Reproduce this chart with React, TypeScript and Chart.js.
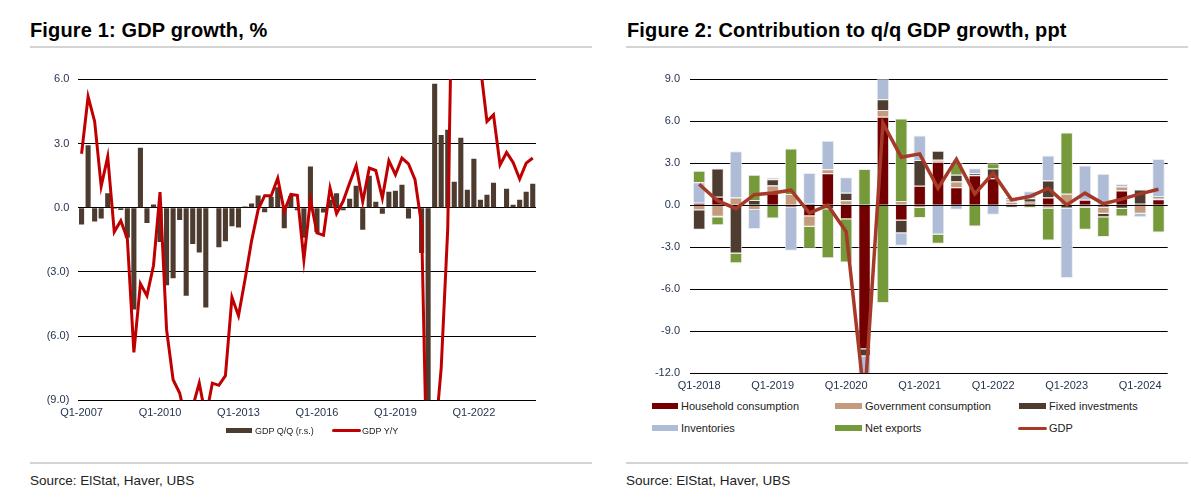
import React, { useEffect, useRef } from "react";
import { Chart, registerables } from "chart.js";
Chart.register(...registerables);

// ---------- Figure 1 data ----------
const FIG1_LABELS = [
  "Q1-2007","Q2-2007","Q3-2007","Q4-2007","Q1-2008","Q2-2008","Q3-2008","Q4-2008",
  "Q1-2009","Q2-2009","Q3-2009","Q4-2009","Q1-2010","Q2-2010","Q3-2010","Q4-2010",
  "Q1-2011","Q2-2011","Q3-2011","Q4-2011","Q1-2012","Q2-2012","Q3-2012","Q4-2012",
  "Q1-2013","Q2-2013","Q3-2013","Q4-2013","Q1-2014","Q2-2014","Q3-2014","Q4-2014",
  "Q1-2015","Q2-2015","Q3-2015","Q4-2015","Q1-2016","Q2-2016","Q3-2016","Q4-2016",
  "Q1-2017","Q2-2017","Q3-2017","Q4-2017","Q1-2018","Q2-2018","Q3-2018","Q4-2018",
  "Q1-2019","Q2-2019","Q3-2019","Q4-2019","Q1-2020","Q2-2020","Q3-2020","Q4-2020",
  "Q1-2021","Q2-2021","Q3-2021","Q4-2021","Q1-2022","Q2-2022","Q3-2022","Q4-2022",
  "Q1-2023","Q2-2023","Q3-2023","Q4-2023","Q1-2024","Q2-2024",
];
const GDP_QQ = [
  -0.78, 2.92, -0.64, -0.5, 0.67, -0.05, -0.11, -1.4,
  -4.76, 2.8, -0.72, 0.15, -1.6, -3.62, -3.3, -0.58,
  -4.12, -1.7, -2.09, -4.66, 0.0, -1.85, -1.57, -0.87,
  -0.92, 0.06, 0.2, 0.57, -0.21, 0.5, 0.95, -0.96,
  0.55, -0.12, -1.4, 1.93, -1.15, -0.22, 0.37, 0.68,
  -0.12, 0.42, 1.03, -1.03, 1.49, 0.28, -0.28, 0.75,
  0.79, 1.07, -0.51, -0.06, -2.12, -14.0, 5.79, 3.4,
  3.64, 1.21, 3.27, 0.84, 2.29, 0.37, 0.61, 1.17,
  0.0, 0.89, 0.14, 0.37, 0.75, 1.12,
];
const GDP_YY = [
  2.52, 5.19, 4.03, 1.0, 2.39, -1.13, -0.61, -1.45,
  -6.76, -3.55, -4.11, -2.7, 0.73, -5.7, -8.04, -8.66,
  -10.0, -9.3, -8.2, -9.8, -8.2, -8.3, -7.85, -4.19,
  -5.05, -3.36, -1.55, -0.1, 0.56, 0.56, 1.38, -0.17,
  0.62, 0.58, -2.43, 0.37, -1.18, -1.29, 0.92, -0.28,
  0.3, 1.15, 1.97, 0.28, 1.85, 1.74, 0.45, 2.2,
  1.54, 2.32, 2.05, 1.31, -0.8, -15.0, -11.0, -7.5,
  -1.0, 16.0, 12.0, 8.0, 8.0, 6.6, 4.03, 4.34,
  2.0, 2.58, 2.11, 1.34, 2.08, 2.32,
];
const FIG1_Y_MIN = -9;
const FIG1_Y_MAX = 6;
const FIG1_Y_STEP = 3;

// ---------- Figure 2 data ----------
const FIG2_LABELS = [
  "Q1-2018","Q2-2018","Q3-2018","Q4-2018","Q1-2019","Q2-2019","Q3-2019","Q4-2019",
  "Q1-2020","Q2-2020","Q3-2020","Q4-2020","Q1-2021","Q2-2021","Q3-2021","Q4-2021",
  "Q1-2022","Q2-2022","Q3-2022","Q4-2022","Q1-2023","Q2-2023","Q3-2023","Q4-2023",
  "Q1-2024","Q2-2024",
];
const HOUSEHOLD = [0.17, 0.6, 0.0, 0.0, 0.85, -0.15, -0.8, 2.28, -1.0, -10.3, 6.33, -1.1, 1.38, 3.1, 1.29, 2.14, 1.93, 0.05, 0.15, 0.55, 0.0, 0.38, -0.17, 1.05, 0.1, 0.43];
const GOVERNMENT = [-0.36, -0.82, 0.55, -0.35, 0.55, 0.8, -0.75, 0.29, 0.36, 0.0, 0.48, 0.3, -0.2, 0.14, 0.4, 0.0, 0.0, 0.2, 0.1, -0.24, 0.81, -0.17, -0.45, 0.28, -0.62, 0.05];
const FIXED_INV = [-1.39, 2.03, -3.45, 0.37, 0.45, 0.0, 0.1, -0.3, 0.53, -0.5, 0.76, -0.9, 1.85, 0.66, 0.48, 0.15, 0.69, -0.18, 0.25, 1.21, -0.24, 0.0, -0.24, -0.26, 1.02, 0.14];
const INVENTORIES = [1.46, -0.05, 3.3, -1.36, 0.12, -3.1, 2.2, 2.03, 1.1, -1.5, 1.9, -0.9, 1.75, -2.1, -0.33, 0.35, -0.69, 0.2, 0.5, 1.79, -4.97, 2.45, 2.24, 0.19, -0.24, 2.69];
const NET_EXPORTS = [0.84, -0.57, -0.7, 1.8, -0.95, 3.25, -1.55, -3.5, -3.1, 2.59, -7.0, 5.9, -0.72, -0.66, 0.88, -1.52, 0.38, 0.1, -0.2, -2.29, 4.38, -1.59, -1.42, -0.55, 0.0, -1.95];
const GDP_CONTRIB = [1.5, 0.32, -0.25, 0.75, 0.87, 1.07, -0.56, 0.0, -1.9, -14.0, 5.86, 3.43, 3.67, 1.21, 3.29, 0.81, 2.29, 0.38, 0.62, 1.21, 0.02, 0.86, 0.1, 0.43, 0.81, 1.14];
const FIG2_Y_MIN = -12;
const FIG2_Y_MAX = 9;
const FIG2_Y_STEP = 3;

// ---------- styles ----------
const FONT = '"Liberation Sans", Arial, sans-serif';
const TICK_COLOR = "#25344f";
const C_BAR1 = "#4d3b2f";
const C_LINE1 = "#c00000";
const C_HH = "#730000";
const C_GOV = "#c49b7d";
const C_FIX = "#4e3c31";
const C_INV = "#aebcd8";
const C_NX = "#76993a";
const C_GDP = "#a63a28";

const fixYAxis = (w: number) => (s: any) => {
  s.width = w;
  s.paddingTop = 0;
  s.paddingBottom = 0;
};

function Fig1Chart() {
  const ref = useRef<HTMLCanvasElement | null>(null);
  useEffect(() => {
    const chart = new Chart(ref.current as HTMLCanvasElement, {
      type: "bar",
      data: {
        labels: FIG1_LABELS,
        datasets: [
          {
            type: "line",
            label: "GDP Y/Y",
            data: GDP_YY,
            borderColor: C_LINE1,
            backgroundColor: C_LINE1,
            borderWidth: 3,
            pointRadius: 0,
            tension: 0,
            order: 0,
            clip: 0,
          } as any,
          {
            type: "bar",
            label: "GDP Q/Q (r.s.)",
            data: GDP_QQ,
            backgroundColor: C_BAR1,
            borderWidth: 0,
            barPercentage: 0.78,
            categoryPercentage: 1,
            order: 1,
            clip: 0,
          } as any,
        ],
      },
      options: {
        responsive: false,
        animation: false,
        layout: { padding: { top: 9.3, right: 14, left: 0, bottom: 0 } },
        plugins: { legend: { display: false }, tooltip: { enabled: false } },
        scales: {
          x: {
            grid: { display: false, drawTicks: false },
            border: { display: false },
            afterFit: (s: any) => { s.height = 24.7; },
            ticks: {
              autoSkip: false,
              maxRotation: 0,
              padding: 6,
              color: TICK_COLOR,
              font: { family: FONT, size: 11 },
              callback: (_v: any, i: number) => (i % 12 === 0 ? FIG1_LABELS[i] : ""),
            },
          },
          y: {
            min: FIG1_Y_MIN,
            max: FIG1_Y_MAX,
            afterFit: fixYAxis(48.3),
            grid: { color: "#000", lineWidth: 1, drawTicks: false },
            border: { display: false },
            ticks: {
              stepSize: FIG1_Y_STEP,
              padding: 9,
              color: TICK_COLOR,
              font: { family: FONT, size: 11 },
              callback: (v: any) => (v < 0 ? `(${Math.abs(v).toFixed(1)})` : Number(v).toFixed(1)),
            },
          },
        },
      },
    });
    return () => chart.destroy();
  }, []);
  return <canvas ref={ref} width={520} height={355} style={{ position: "absolute", left: 30, top: 70, width: 520, height: 355 }} />;
}

function Fig2Chart() {
  const ref = useRef<HTMLCanvasElement | null>(null);
  useEffect(() => {
    const barDs = (label: string, data: number[], color: string) => ({
      type: "bar",
      label,
      data,
      backgroundColor: color,
      borderColor: "rgba(235,235,235,0.9)",
      borderWidth: 1,
      barPercentage: 0.68,
      categoryPercentage: 1,
      stack: "contrib",
      order: 1,
      clip: 0,
    });
    const chart = new Chart(ref.current as HTMLCanvasElement, {
      type: "bar",
      data: {
        labels: FIG2_LABELS,
        datasets: [
          barDs("Household consumption", HOUSEHOLD, C_HH),
          barDs("Government consumption", GOVERNMENT, C_GOV),
          barDs("Fixed investments", FIXED_INV, C_FIX),
          barDs("Inventories", INVENTORIES, C_INV),
          barDs("Net exports", NET_EXPORTS, C_NX),
          {
            type: "line",
            label: "GDP",
            data: GDP_CONTRIB,
            borderColor: C_GDP,
            backgroundColor: C_GDP,
            borderWidth: 3.5,
            pointRadius: 0,
            tension: 0,
            stack: "gdp",
            order: 0,
            clip: 0,
          },
        ] as any,
      },
      options: {
        responsive: false,
        animation: false,
        layout: { padding: { top: 9.3, right: 12.3, left: 0, bottom: 0 } },
        plugins: { legend: { display: false }, tooltip: { enabled: false } },
        scales: {
          x: {
            stacked: true,
            grid: { display: false, drawTicks: false },
            border: { display: false },
            afterFit: (s: any) => { s.height = 22; },
            ticks: {
              autoSkip: false,
              maxRotation: 0,
              padding: 6,
              color: TICK_COLOR,
              font: { family: FONT, size: 11 },
              callback: (_v: any, i: number) => (i % 4 === 0 ? FIG2_LABELS[i] : ""),
            },
          },
          y: {
            stacked: true,
            min: FIG2_Y_MIN,
            max: FIG2_Y_MAX,
            afterFit: fixYAxis(50),
            grid: { color: "#000", lineWidth: 1, drawTicks: false },
            border: { display: false },
            ticks: {
              stepSize: FIG2_Y_STEP,
              padding: 10,
              color: TICK_COLOR,
              font: { family: FONT, size: 11 },
              callback: (v: any) => Number(v).toFixed(1),
            },
          },
        },
      },
    });
    return () => chart.destroy();
  }, []);
  return <canvas ref={ref} width={540} height={325} style={{ position: "absolute", left: 640, top: 70, width: 540, height: 325 }} />;
}

const abs = (s: React.CSSProperties): React.CSSProperties => ({ position: "absolute", ...s });

function LegendText({ left, cy, size, text }: { left: number; cy: number; size: number; text: string }) {
  return (
    <div style={abs({ left, top: cy - 8, height: 16, lineHeight: "16px", fontFamily: FONT, fontSize: size, color: "#222", whiteSpace: "nowrap" })}>
      {text}
    </div>
  );
}

function Swatch({ left, cy, w, h, color, round }: { left: number; cy: number; w: number; h: number; color: string; round?: boolean }) {
  return <div style={abs({ left, top: cy - h / 2, width: w, height: h, background: color, borderRadius: round ? h / 2 : 0 })} />;
}

export default function App() {
  useEffect(() => {
    document.body.style.margin = "0";
  }, []);
  const titleStyle = (left: number): React.CSSProperties =>
    abs({ left, top: 20, lineHeight: "20px", fontFamily: FONT, fontWeight: "bold", fontSize: 20, letterSpacing: "0.15px", color: "#000", whiteSpace: "nowrap" });
  const sourceStyle = (left: number): React.CSSProperties =>
    abs({ left, top: 473, lineHeight: "16px", fontFamily: FONT, fontSize: 13.5, color: "#222", whiteSpace: "nowrap" });
  return (
    <div style={abs({ left: 0, top: 0, width: 1191, height: 502, background: "#fff", overflow: "hidden" })}>
      <div style={titleStyle(30)}>Figure 1: GDP growth, %</div>
      <div style={titleStyle(627)}>Figure 2: Contribution to q/q GDP growth, ppt</div>
      <div style={abs({ left: 30, top: 46, width: 562, height: 2, background: "#d4d4d4" })} />
      <div style={abs({ left: 626, top: 46, width: 562, height: 2, background: "#d4d4d4" })} />

      <Fig1Chart />
      <Fig2Chart />

      {/* Figure 1 legend */}
      <Swatch left={225.7} cy={430.7} w={26.5} h={5.5} color={C_BAR1} />
      <LegendText left={255} cy={430.7} size={9} text="GDP Q/Q (r.s.)" />
      <Swatch left={331.7} cy={430.7} w={29} h={3.5} color={C_LINE1} round />
      <LegendText left={362} cy={430.7} size={9} text="GDP Y/Y" />

      {/* Figure 2 legend */}
      <Swatch left={651.7} cy={406} w={26} h={6} color={C_HH} />
      <LegendText left={681} cy={406} size={11} text="Household consumption" />
      <Swatch left={835} cy={406} w={27} h={6} color={C_GOV} />
      <LegendText left={865} cy={406} size={11} text="Government consumption" />
      <Swatch left={1019} cy={406} w={27} h={6} color={C_FIX} />
      <LegendText left={1049} cy={406} size={11} text="Fixed investments" />
      <Swatch left={651.7} cy={428.3} w={26} h={6} color={C_INV} />
      <LegendText left={681} cy={428.3} size={11} text="Inventories" />
      <Swatch left={835} cy={428.3} w={27} h={6} color={C_NX} />
      <LegendText left={865} cy={428.3} size={11} text="Net exports" />
      <Swatch left={1018} cy={428.3} w={29} h={3.5} color={C_GDP} round />
      <LegendText left={1049} cy={428.3} size={11} text="GDP" />

      <div style={abs({ left: 30, top: 462, width: 562, height: 2, background: "#d4d4d4" })} />
      <div style={abs({ left: 626, top: 462, width: 562, height: 2, background: "#d4d4d4" })} />
      <div style={sourceStyle(30)}>Source: ElStat, Haver, UBS</div>
      <div style={sourceStyle(626)}>Source: ElStat, Haver, UBS</div>
    </div>
  );
}
